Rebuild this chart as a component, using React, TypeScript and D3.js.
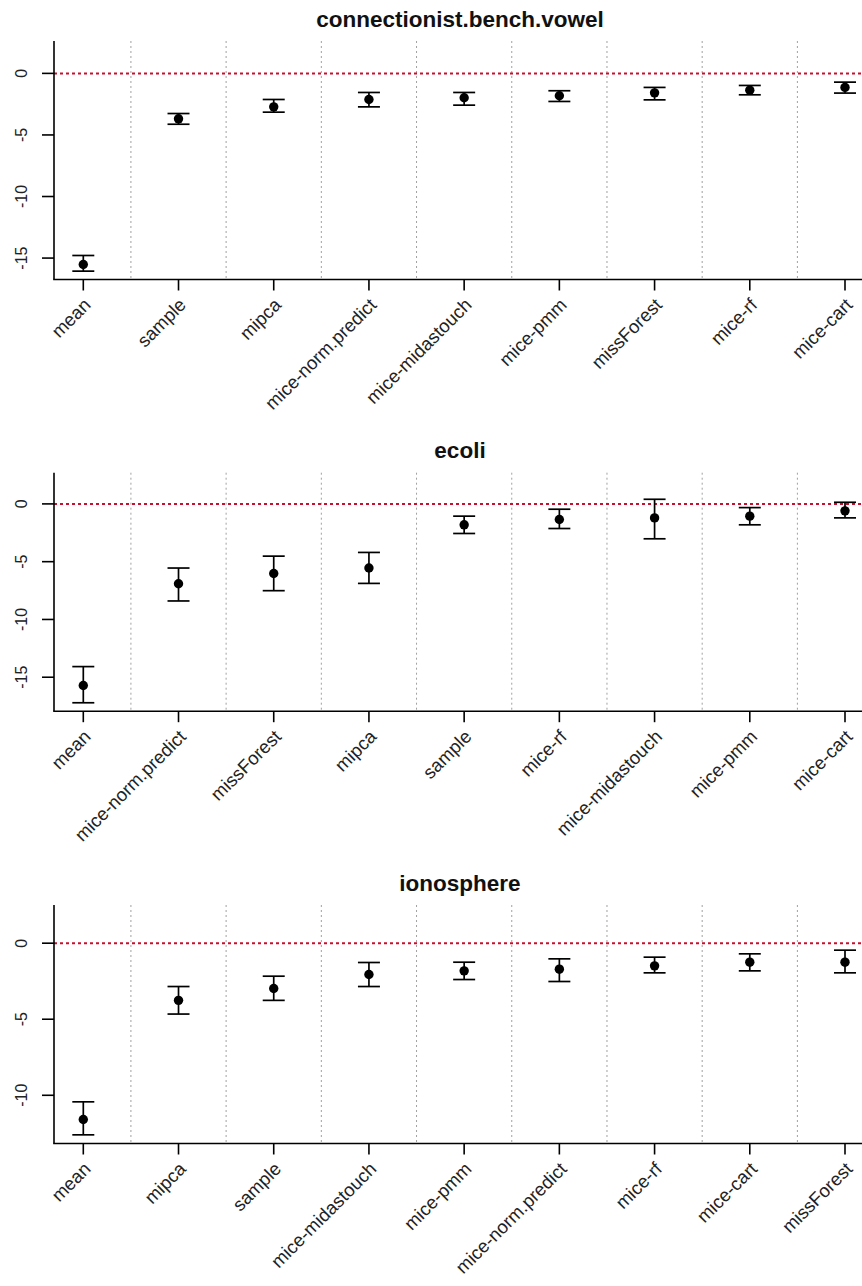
import React from "react";
import * as d3 from "d3";

const titles = ["connectionist.bench.vowel", "ecoli", "ionosphere"];

const vowelMethods = ["mean", "sample", "mipca", "mice-norm.predict", "mice-midastouch", "mice-pmm", "missForest", "mice-rf", "mice-cart"];
const vowelMid = [-15.52, -3.69, -2.72, -2.12, -1.98, -1.82, -1.58, -1.36, -1.14];
const vowelLow = [-16.06, -4.13, -3.15, -2.72, -2.58, -2.28, -2.15, -1.74, -1.6];
const vowelHigh = [-14.79, -3.26, -2.12, -1.55, -1.55, -1.41, -1.14, -0.98, -0.71];

const ecoliMethods = ["mean", "mice-norm.predict", "missForest", "mipca", "sample", "mice-rf", "mice-midastouch", "mice-pmm", "mice-cart"];
const ecoliMid = [-15.72, -6.91, -6.02, -5.55, -1.81, -1.35, -1.21, -1.06, -0.6];
const ecoliLow = [-17.21, -8.4, -7.51, -6.88, -2.56, -2.13, -3.02, -1.81, -1.21];
const ecoliHigh = [-14.08, -5.55, -4.52, -4.2, -1.06, -0.46, 0.4, -0.32, 0.14];

const ionoMethods = ["mean", "mipca", "sample", "mice-midastouch", "mice-pmm", "mice-norm.predict", "mice-rf", "mice-cart", "missForest"];
const ionoMid = [-11.59, -3.76, -2.98, -2.06, -1.82, -1.71, -1.49, -1.25, -1.25];
const ionoLow = [-12.6, -4.66, -3.76, -2.85, -2.39, -2.52, -1.95, -1.82, -1.95];
const ionoHigh = [-10.43, -2.85, -2.17, -1.27, -1.25, -1.03, -0.92, -0.7, -0.46];

const yDomains: [number, number][] = [[-16.74, 2.63], [-17.94, 2.7], [-13.17, 2.51]];
const yTicks = [[0, -5, -10, -15], [0, -5, -10, -15], [0, -5, -10]];

const panels = [
  { title: titles[0], methods: vowelMethods, mid: vowelMid, low: vowelLow, high: vowelHigh, dom: yDomains[0], ticks: yTicks[0] },
  { title: titles[1], methods: ecoliMethods, mid: ecoliMid, low: ecoliLow, high: ecoliHigh, dom: yDomains[1], ticks: yTicks[1] },
  { title: titles[2], methods: ionoMethods, mid: ionoMid, low: ionoLow, high: ionoHigh, dom: yDomains[2], ticks: yTicks[2] },
];

const W = 862;
const H = 1286;
const plotLeft = 54;
const plotRight = 874;
const panelTops = [41, 472.7, 905];
const panelH = 238.5;

function Panel({ p, top }: { p: typeof panels[0]; top: number }) {
  const bottom = top + panelH;
  const x = d3.scaleLinear().domain([1, 9]).range([83.3, 845]);
  const y = d3.scaleLinear().domain(p.dom).range([bottom, top]);
  const idx = d3.range(p.methods.length);
  const seps = d3.range(1, p.methods.length).map((i) => i + 0.5);
  const cap = 11;
  return (
    <g>
      <text
        transform={`translate(${(plotLeft + plotRight) / 2 - 4},${top - 14.5})`}
        textAnchor="middle"
        fontFamily="'Liberation Sans', Arial, sans-serif"
        fontWeight="bold"
        fontSize={22.5}
        fill="#111"
      >
        {p.title}
      </text>
      {seps.map((s) => (
        <line key={s} x1={x(s)} x2={x(s)} y1={top} y2={bottom} stroke="#a0a0a0" strokeWidth={1} strokeDasharray="2,3" />
      ))}
      <line x1={plotLeft} x2={plotRight} y1={y(0)} y2={y(0)} stroke="#c8102e" strokeWidth={2} strokeDasharray="3,3" />
      {idx.map((i) => (
        <g key={i} stroke="#000" strokeWidth={1.7}>
          <line x1={x(i + 1)} x2={x(i + 1)} y1={y(p.low[i])} y2={y(p.high[i])} />
          <line x1={x(i + 1) - cap} x2={x(i + 1) + cap} y1={y(p.low[i])} y2={y(p.low[i])} />
          <line x1={x(i + 1) - cap} x2={x(i + 1) + cap} y1={y(p.high[i])} y2={y(p.high[i])} />
          <circle cx={x(i + 1)} cy={y(p.mid[i])} r={4.7} fill="#000" stroke="none" />
        </g>
      ))}
      <line x1={plotLeft} x2={plotLeft} y1={top} y2={bottom} stroke="#000" strokeWidth={1.6} />
      <line x1={plotLeft - 0.8} x2={plotRight} y1={bottom} y2={bottom} stroke="#000" strokeWidth={1.6} />
      {p.ticks.map((t) => (
        <g key={t}>
          <line x1={plotLeft - 12} x2={plotLeft} y1={y(t)} y2={y(t)} stroke="#000" strokeWidth={1.6} />
          <text
            transform={`translate(${21},${y(t)}) rotate(-90)`}
            textAnchor="middle"
            dy="0.36em"
            fontFamily="'Liberation Sans', Arial, sans-serif"
            fontSize={16}
            fill="#222"
          >
            {t}
          </text>
        </g>
      ))}
      {idx.map((i) => (
        <g key={i}>
          <line x1={x(i + 1)} x2={x(i + 1)} y1={bottom} y2={bottom + 11} stroke="#000" strokeWidth={1.6} />
          <text
            transform={`translate(${x(i + 1) + 4},${bottom + 22}) rotate(-45)`}
            textAnchor="end"
            dy="0.35em"
            fontFamily="'Liberation Sans', Arial, sans-serif"
            fontSize={18.5}
            fill="#222"
          >
            {p.methods[i]}
          </text>
        </g>
      ))}
    </g>
  );
}

export default function App() {
  return (
    <svg width={W} height={H} style={{ position: "absolute", left: 0, top: 0, background: "#fff" }}>
      <rect x={0} y={0} width={W} height={H} fill="#fff" />
      {panels.map((p, k) => (
        <Panel key={k} p={p} top={panelTops[k]} />
      ))}
    </svg>
  );
}
